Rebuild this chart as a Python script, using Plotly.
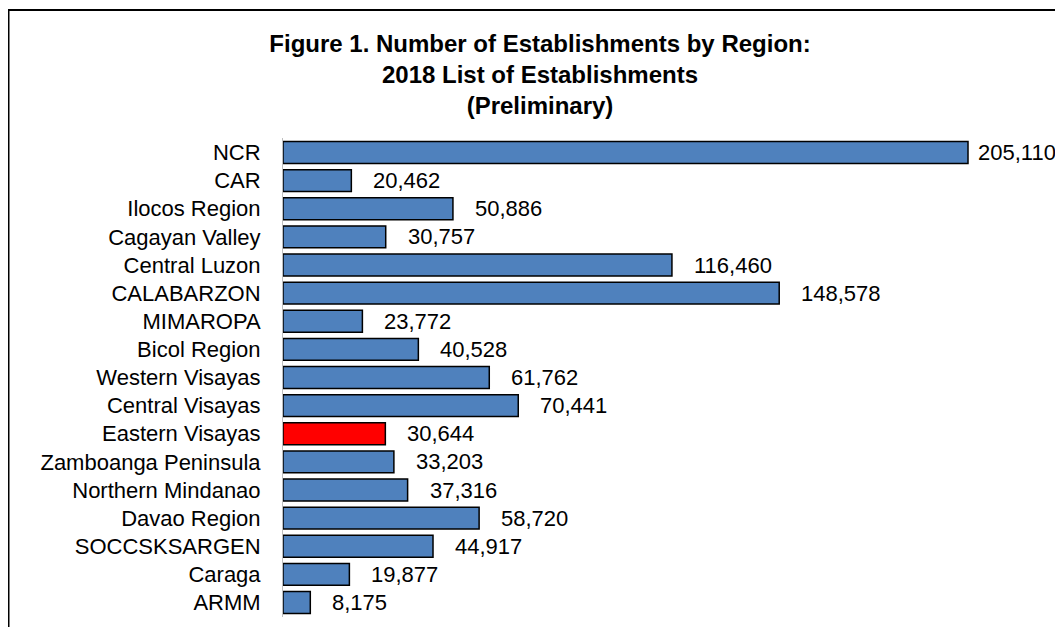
import plotly.graph_objects as go

regions = ["NCR", "CAR", "Ilocos Region", "Cagayan Valley", "Central Luzon", "CALABARZON",
           "MIMAROPA", "Bicol Region", "Western Visayas", "Central Visayas", "Eastern Visayas",
           "Zamboanga Peninsula", "Northern Mindanao", "Davao Region", "SOCCSKSARGEN",
           "Caraga", "ARMM"]
establishments = [205110, 20462, 50886, 30757, 116460, 148578, 23772, 40528, 61762, 70441,
                  30644, 33203, 37316, 58720, 44917, 19877, 8175]
highlight = "Eastern Visayas"

title_lines = ["Figure 1. Number of Establishments by Region:",
               "2018 List of Establishments", "(Preliminary)"]

colors = ["#FF0000" if r == highlight else "#4F81BD" for r in regions]
FONT = "Liberation Sans, Arial"

fig = go.Figure()
fig.add_trace(go.Bar(
    x=establishments, y=regions, orientation="h",
    marker=dict(color=colors, line=dict(color="black", width=1.5)),
    width=0.78, hoverinfo="x+y",
))

for r, v in zip(regions, establishments):
    fig.add_annotation(x=v, y=r, text=f"{v:,}", showarrow=False, xanchor="left",
                       xshift=8 if v == max(establishments) else 20,
                       font=dict(family=FONT, size=22, color="black"))

# page has an 8px body margin; figure sized/positioned to compensate
W, H = 1055, 619
L, T = 275, 130
R, B = W - 992, H - 609
pw, ph = W - L - R, H - T - B

# frame
fig.add_shape(type="rect", xref="paper", yref="paper",
              x0=(0.5 - L) / pw, x1=(1080 - L) / pw,
              y0=-(40) / ph, y1=1 + (T - 2) / ph,
              line=dict(color="black", width=2), fillcolor="rgba(0,0,0,0)")

fig.update_layout(
    width=W, height=H,
    margin=dict(l=L, r=R, t=T, b=B, autoexpand=False),
    paper_bgcolor="white", plot_bgcolor="white",
    showlegend=False,
    title=dict(text="<br>".join(f"<b>{t}</b>" for t in title_lines),
               x=532 / W, xanchor="center", xref="container",
               y=1 - 44 / H, yanchor="top", yref="container",
               font=dict(family=FONT, size=24, color="black")),
    xaxis=dict(range=[0, 214690], visible=False, showgrid=False, zeroline=False),
    yaxis=dict(autorange="reversed", showgrid=False, zeroline=False,
               showline=True, linecolor="#BFBFBF", linewidth=1,
               ticks="", ticklabelstandoff=17,
               tickfont=dict(family=FONT, size=22, color="black")),
)

fig.write_html("out.html")
